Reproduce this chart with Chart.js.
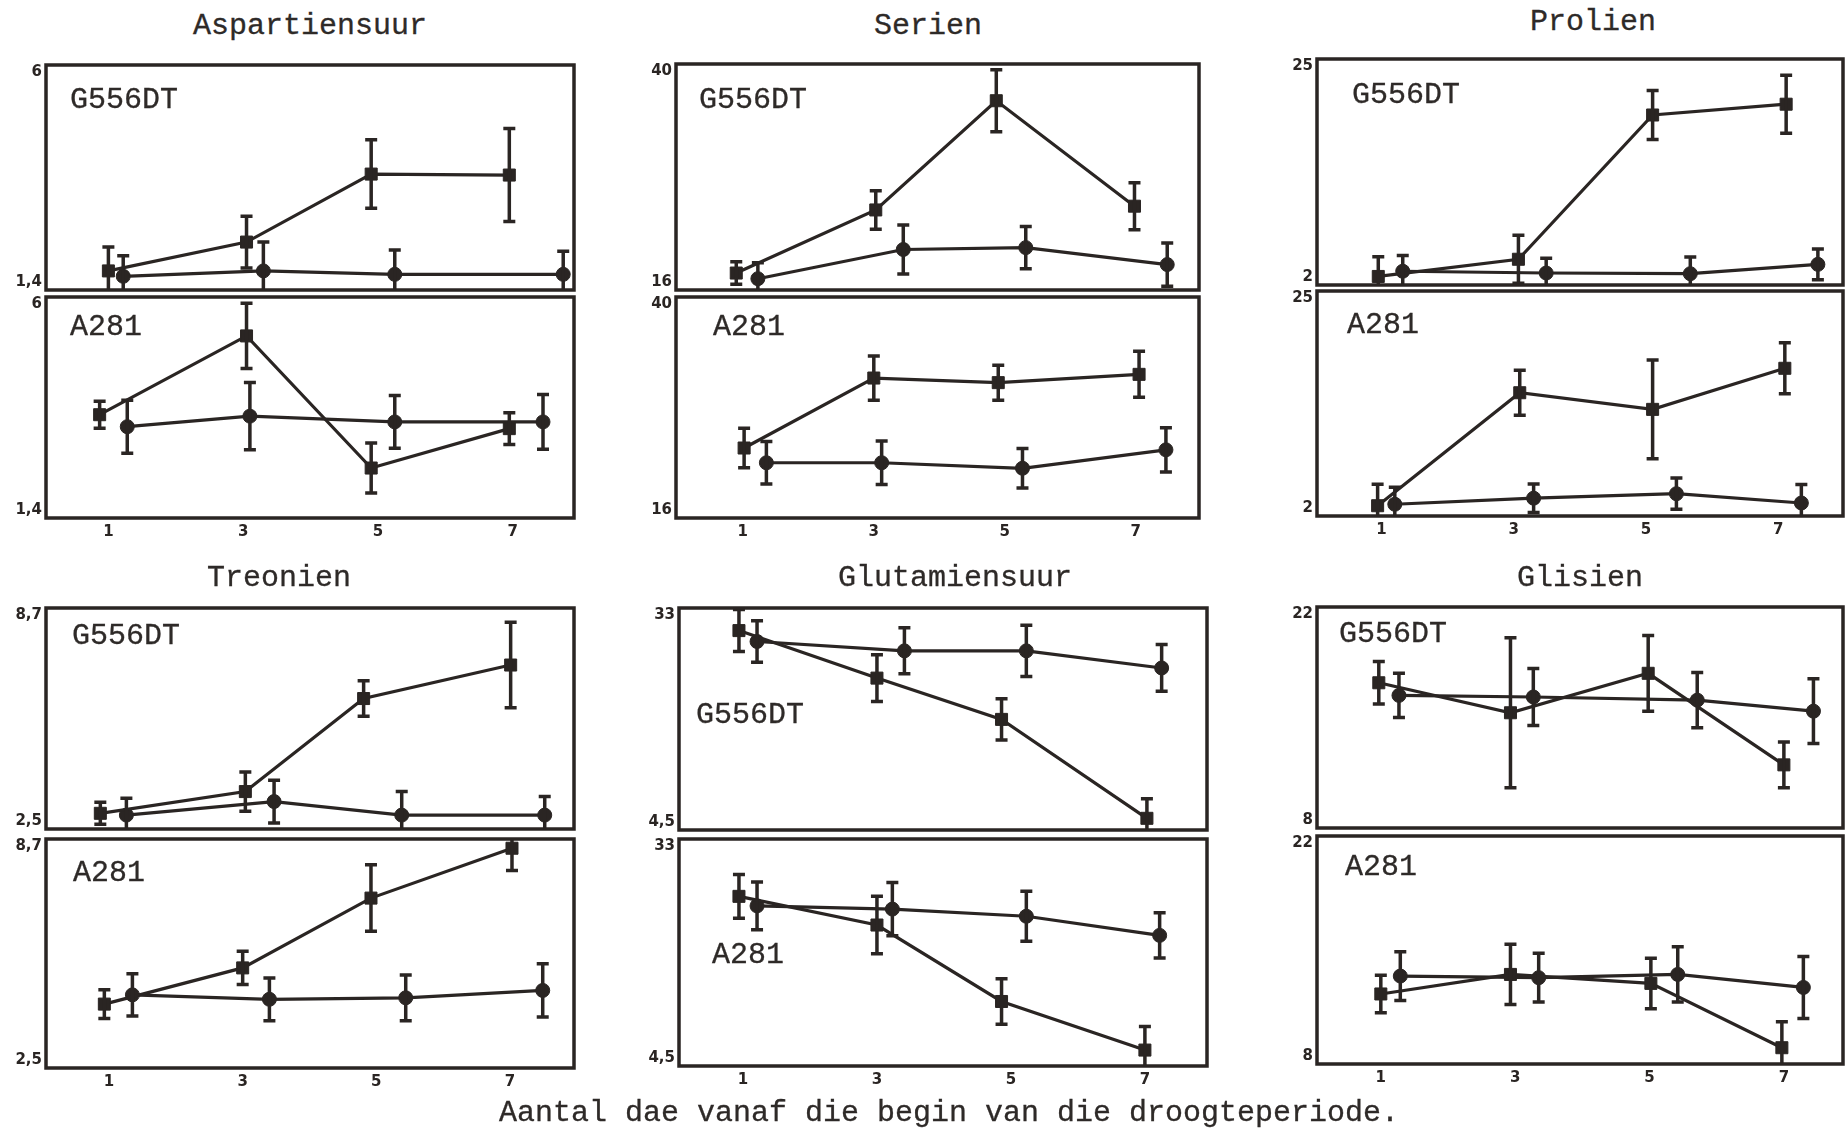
<!DOCTYPE html>
<html>
<head>
<meta charset="utf-8">
<script src="https://cdn.jsdelivr.net/npm/chart.js@4.4.0/dist/chart.umd.min.js"></script>
<style>
  html, body { margin: 0; padding: 0; background: #fff; overflow: hidden; }
  body { width: 1845px; height: 1129px; position: relative; }
  canvas { position: absolute; }
  .txt { position: absolute; font-family: 'Liberation Mono', monospace; font-size: 30px; color: #2e2a28;
         white-space: nowrap; line-height: 1; -webkit-text-stroke: 0.3px #2e2a28; }
  .mid { transform: translate(-50%, -50%); }
  .lab { transform: translateY(-50%); }
</style>
</head>
<body>
<script>
// x-as: dae
const dayTicks = [1, 3, 5, 7];
const titles = ['Aspartiensuur', 'Serien', 'Prolien', 'Treonien', 'Glutamiensuur', 'Glisien'];
const cultivars = ['G556DT', 'A281'];
const caption = 'Aantal dae vanaf die begin van die droogteperiode.';

// y-as grense [min, max]
const aspRange = [1.4, 6];
const serRange = [16, 40];
const proRange = [2, 25];
const treRange = [2.5, 8.7];
const gluRange = [4.5, 33];
const gliRange = [8, 22];

// punte: [dag, gemiddeld, fout]; _sq = vierkant reeks, _ci = sirkel reeks
const aspG_sq = [[1.0, 1.79, 0.49], [3.05, 2.38, 0.53], [4.9, 3.77, 0.7], [6.95, 3.75, 0.95]];
const aspG_ci = [[1.22, 1.68, 0.42], [3.3, 1.79, 0.59], [5.25, 1.72, 0.5], [7.75, 1.72, 0.47]];
const aspA_sq = [[0.87, 3.55, 0.28], [3.05, 5.19, 0.68], [4.9, 2.44, 0.52], [6.95, 3.26, 0.33]];
const aspA_ci = [[1.28, 3.30, 0.55], [3.1, 3.52, 0.7], [5.25, 3.40, 0.55], [7.45, 3.40, 0.57]];

const serG_sq = [[0.9, 17.8, 1.2], [3.03, 24.5, 2.05], [4.87, 36.1, 3.3], [6.98, 24.9, 2.5]];
const serG_ci = [[1.23, 17.2, 1.7], [3.45, 20.3, 2.6], [5.32, 20.5, 2.25], [7.48, 18.7, 2.3]];
const serA_sq = [[1.02, 23.6, 2.15], [3.0, 31.2, 2.4], [4.9, 30.7, 1.9], [7.05, 31.6, 2.5]];
const serA_ci = [[1.36, 22.0, 2.3], [3.12, 22.0, 2.35], [5.27, 21.4, 2.15], [7.46, 23.4, 2.4]];

const proG_sq = [[0.95, 2.87, 2.0], [3.07, 4.62, 2.45], [5.1, 19.3, 2.5], [7.12, 20.4, 2.95]];
const proG_ci = [[1.32, 3.4, 1.6], [3.49, 3.22, 1.5], [5.67, 3.15, 1.7], [7.6, 4.1, 1.57]];
const proA_sq = [[0.94, 3.05, 2.2], [3.09, 14.6, 2.3], [5.1, 12.9, 5.05], [7.1, 17.1, 2.6]];
const proA_ci = [[1.2, 3.2, 1.75], [3.3, 3.82, 1.45], [5.46, 4.28, 1.6], [7.35, 3.33, 1.9]];

const treG_sq = [[0.87, 2.94, 0.31], [3.04, 3.55, 0.55], [4.81, 6.16, 0.5], [7.01, 7.1, 1.2]];
const treG_ci = [[1.26, 2.89, 0.47], [3.47, 3.27, 0.6], [5.38, 2.89, 0.66], [7.52, 2.89, 0.52]];
const treA_sq = [[0.93, 4.23, 0.39], [3.0, 5.21, 0.45], [4.92, 7.1, 0.9], [7.03, 8.45, 0.6]];
const treA_ci = [[1.35, 4.48, 0.57], [3.4, 4.36, 0.58], [5.44, 4.4, 0.62], [7.49, 4.6, 0.72]];

const gluG_sq = [[0.94, 30.1, 2.7], [3.0, 24.0, 3.0], [4.86, 18.7, 2.65], [7.03, 6.0, 2.5]];
const gluG_ci = [[1.21, 28.7, 2.65], [3.41, 27.5, 2.95], [5.23, 27.5, 3.3], [7.25, 25.3, 3.0]];
const gluA_sq = [[0.94, 25.8, 2.75], [3.0, 22.2, 3.6], [4.86, 12.6, 2.85], [7.0, 6.5, 2.95]];
const gluA_ci = [[1.21, 24.6, 3.0], [3.23, 24.2, 3.35], [5.23, 23.3, 3.15], [7.22, 20.9, 2.85]];

const gliG_sq = [[0.97, 17.2, 1.35], [2.93, 15.3, 4.75], [4.98, 17.8, 2.4], [7.0, 12.0, 1.45]];
const gliG_ci = [[1.27, 16.4, 1.4], [3.27, 16.3, 1.8], [5.71, 16.1, 1.75], [7.44, 15.4, 2.05]];
const gliA_sq = [[1.0, 12.3, 1.15], [2.93, 13.5, 1.85], [5.02, 12.95, 1.55], [6.97, 9.0, 1.6]];
const gliA_ci = [[1.29, 13.4, 1.5], [3.35, 13.3, 1.5], [5.42, 13.5, 1.7], [7.29, 12.7, 1.9]];

const groups = [
  { range: aspRange, top: [aspG_sq, aspG_ci], bottom: [aspA_sq, aspA_ci] },
  { range: serRange, top: [serG_sq, serG_ci], bottom: [serA_sq, serA_ci] },
  { range: proRange, top: [proG_sq, proG_ci], bottom: [proA_sq, proA_ci] },
  { range: treRange, top: [treG_sq, treG_ci], bottom: [treA_sq, treA_ci] },
  { range: gluRange, top: [gluG_sq, gluG_ci], bottom: [gluA_sq, gluA_ci] },
  { range: gliRange, top: [gliG_sq, gliG_ci], bottom: [gliA_sq, gliA_ci] }
];

// uitleg: raam posisies in pixels
const frames = [
  { l: 46, r: 574, t: [65, 297], b: [291, 518], xr: [0.074, 7.91], g: [24, 35], a: [24, 30], title: [310, 26] },
  { l: 676, r: 1199, t: [64, 297], b: [291, 518], xr: [-0.02, 7.965], g: [23, 36], a: [37, 30], title: [928, 26] },
  { l: 1317, r: 1843, t: [59, 291], b: [286, 516], xr: [0.023, 7.98], g: [35, 36], a: [30, 34], title: [1593, 22] },
  { l: 46, r: 574, t: [608, 839], b: [830, 1068], xr: [0.057, 7.958], g: [26, 28], a: [27, 34], title: [279, 578] },
  { l: 679, r: 1207, t: [608, 839], b: [831, 1066], xr: [0.045, 7.927], g: [17, 107], a: [33, 116], title: [955, 578] },
  { l: 1317, r: 1843, t: [607, 836], b: [829, 1064], xr: [0.05, 7.88], g: [22, 27], a: [28, 31], title: [1580, 578] }
];

const INK = '#2a2523';
const Y_W = 44, PAD_T = 20, PAD_R = 10, PAD_B = 18, X_H = 28;

Chart.defaults.font.family = "'DejaVu Sans', sans-serif";
Chart.defaults.color = INK;

const fmt = v => String(v).replace('.', ',');

// foutstawe
const errorBars = {
  id: 'errorBars',
  afterDatasetsDraw(chart) {
    const { ctx, chartArea: a, scales: { x, y } } = chart;
    ctx.save();
    ctx.beginPath();
    ctx.rect(a.left, a.top, a.right - a.left, a.bottom - a.top);
    ctx.clip();
    ctx.strokeStyle = INK;
    ctx.lineWidth = 3.5;
    chart.data.datasets.forEach(ds => {
      ds.data.forEach((p, i) => {
        const px = x.getPixelForValue(p.x);
        const hi = y.getPixelForValue(p.y + ds.errors[i]);
        const lo = y.getPixelForValue(p.y - ds.errors[i]);
        ctx.beginPath();
        ctx.moveTo(px, hi); ctx.lineTo(px, lo);
        ctx.moveTo(px - 6, hi); ctx.lineTo(px + 6, hi);
        ctx.moveTo(px - 6, lo); ctx.lineTo(px + 6, lo);
        ctx.stroke();
      });
    });
    ctx.restore();
  }
};

// raam om die plot
const frameBox = {
  id: 'frameBox',
  afterDraw(chart) {
    const { ctx, chartArea: a } = chart;
    ctx.save();
    ctx.strokeStyle = INK;
    ctx.lineWidth = 3.5;
    ctx.strokeRect(a.left, a.top, a.right - a.left, a.bottom - a.top);
    ctx.restore();
  }
};

function addText(str, x, y, cls) {
  const d = document.createElement('div');
  d.className = 'txt ' + cls;
  d.textContent = str;
  d.style.left = x + 'px';
  d.style.top = y + 'px';
  document.body.appendChild(d);
}

function makePanel(f, k, range, series, showX) {
  const top = f.t[k], bottom = f.b[k];
  const cv = document.createElement('canvas');
  cv.width = f.r - f.l + Y_W + PAD_R;
  cv.height = bottom - top + PAD_T + PAD_B + (showX ? X_H : 0);
  cv.style.left = (f.l - Y_W) + 'px';
  cv.style.top = (top - PAD_T) + 'px';
  document.body.appendChild(cv);

  new Chart(cv, {
    type: 'line',
    data: {
      datasets: series.map((s, j) => ({
        data: s.map(p => ({ x: p[0], y: p[1] })),
        errors: s.map(p => p[2]),
        borderColor: INK,
        backgroundColor: INK,
        borderWidth: 3.2,
        pointStyle: j === 0 ? 'rect' : 'circle',
        pointRadius: j === 0 ? 8.5 : 7,
        pointBorderWidth: 1,
        tension: 0,
        fill: false
      }))
    },
    options: {
      responsive: false,
      animation: false,
      events: [],
      layout: { padding: { top: PAD_T, right: PAD_R, bottom: PAD_B, left: 0 } },
      plugins: { legend: { display: false }, tooltip: { enabled: false } },
      scales: {
        x: {
          type: 'linear',
          min: f.xr[0], max: f.xr[1],
          display: showX,
          grid: { display: false, drawTicks: false },
          border: { display: false },
          afterBuildTicks: s => { s.ticks = dayTicks.map(v => ({ value: v })); },
          afterFit: s => { s.height = showX ? X_H : 0; },
          ticks: { padding: 7, autoSkip: false, maxRotation: 0, font: { size: 15, weight: 'bold', lineHeight: 1 } }
        },
        y: {
          type: 'linear',
          min: range[0], max: range[1],
          grid: { display: false, drawTicks: false },
          border: { display: false },
          afterBuildTicks: s => { s.ticks = [{ value: range[0] }, { value: range[1] }]; },
          afterFit: s => { s.width = Y_W; },
          ticks: {
            padding: 4, autoSkip: false,
            font: { size: 15, weight: 'bold', lineHeight: 1 },
            callback: v => v === range[1] ? ['', fmt(v)] : [fmt(v), '']
          }
        }
      }
    },
    plugins: [errorBars, frameBox]
  });
}

groups.forEach((g, i) => {
  const f = frames[i];
  makePanel(f, 0, g.range, g.top, false);
  makePanel(f, 1, g.range, g.bottom, true);
  addText(titles[i], f.title[0], f.title[1], 'mid');
  addText(cultivars[0], f.l + f.g[0], f.t[0] + f.g[1], 'lab');
  addText(cultivars[1], f.l + f.a[0], f.t[1] + f.a[1], 'lab');
});

addText(caption, 949, 1113, 'mid');
</script>
</body>
</html>
